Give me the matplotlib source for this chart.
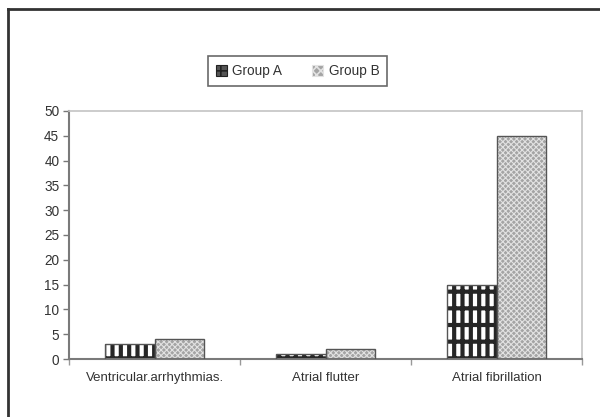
import matplotlib
matplotlib.use("Agg")
import matplotlib.pyplot as plt
from matplotlib.patches import Patch
from matplotlib.lines import Line2D
import numpy as np

categories = ["Ventricular.arrhythmias.", "Atrial flutter", "Atrial fibrillation"]
group_a = [3, 1, 15]
group_b = [4, 2, 45]
series_names = ["Group A", "Group B"]
y_ticks = [0, 5, 10, 15, 20, 25, 30, 35, 40, 45, 50]

plt.rcParams["font.family"] = ["Liberation Sans", "DejaVu Sans"]
plt.rcParams["hatch.linewidth"] = 3.0

fig = plt.figure(figsize=(6.0, 4.17), dpi=100)
ax = fig.add_axes([0.115, 0.139, 0.855, 0.595])

x = np.arange(len(categories))
w = 0.292
off = 0.146

# Group A: dark brick pattern with white windows
ax.bar(x - off, group_a, w, facecolor="white", edgecolor="#262626",
       hatch="||-", linewidth=0, zorder=2)
ax.bar(x - off, group_a, w, fill=False, edgecolor="#555555",
       linewidth=1.0, zorder=3)

# Group B: light stippled pattern
plt.rcParams["hatch.linewidth"] = 0.8
ax.bar(x + off, group_b, w, facecolor="#a4a4a4", edgecolor="#e2e2e2",
       hatch="xxxxxx", linewidth=0, zorder=2)
ax.bar(x + off, group_b, w, fill=False, edgecolor="#555555",
       linewidth=1.0, zorder=3)

ax.set_xlim(-0.5, len(categories) - 0.5)
ax.set_ylim(0, 50)
ax.set_yticks(y_ticks)
ax.set_xticks(x)
ax.set_xticklabels(categories)
ax.set_xticks(np.arange(-0.5, len(categories), 1.0), minor=True)

txt = "#333333"
ax.tick_params(axis="y", direction="out", length=4, width=1, color="#777777",
               labelsize=9.8, labelcolor=txt, pad=3)
ax.tick_params(axis="x", which="major", length=0, labelsize=9.5,
               labelcolor=txt, pad=9)
ax.tick_params(axis="x", which="minor", direction="out", length=4, width=1,
               color="#999999")

for side in ("left", "bottom"):
    ax.spines[side].set_color("#7a7a7a")
    ax.spines[side].set_linewidth(1.5)
for side in ("top", "right"):
    ax.spines[side].set_color("#c4c4c4")
    ax.spines[side].set_linewidth(1.2)

plt.rcParams["hatch.linewidth"] = 1.2
handles = [
    Patch(facecolor="#555555", edgecolor="#222222", hatch="++", linewidth=0.8),
    Patch(facecolor="#a4a4a4", edgecolor="#e2e2e2", hatch="xxxx", linewidth=0.8),
]
leg = fig.legend(handles, series_names, loc="center", ncol=2,
                 bbox_to_anchor=(0.496, 0.829), fontsize=9.8, frameon=True,
                 fancybox=False, edgecolor="#444444", handlelength=0.8,
                 handleheight=0.8, handletextpad=0.4, columnspacing=2.2,
                 borderpad=0.6)
leg.get_frame().set_linewidth(1.2)
for t in leg.get_texts():
    t.set_color(txt)

# outer frame lines
fig.add_artist(Line2D([0.013, 1.0], [0.978, 0.978], color="#333333", lw=2,
                      transform=fig.transFigure))
fig.add_artist(Line2D([0.013, 0.013], [0.0, 0.978], color="#333333", lw=2,
                      transform=fig.transFigure))

fig.savefig("out.png", dpi=100)
